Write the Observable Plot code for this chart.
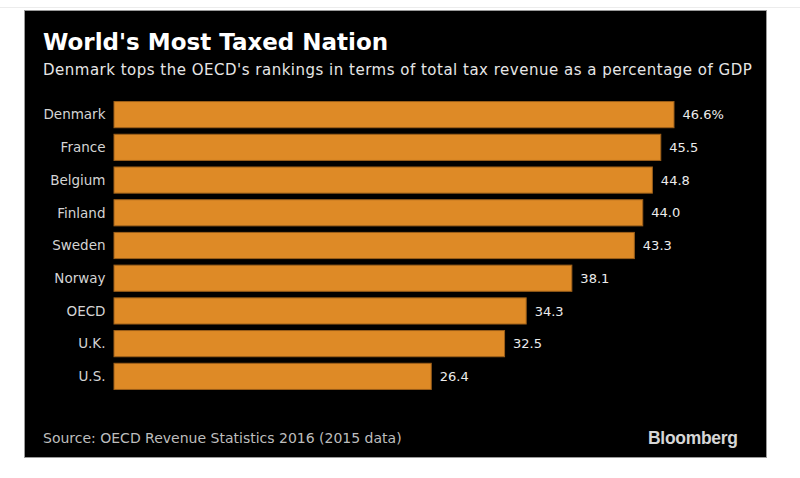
<!DOCTYPE html>
<html>
<head>
<meta charset="utf-8">
<script src="https://cdn.jsdelivr.net/npm/d3@7"></script>
<script src="https://cdn.jsdelivr.net/npm/@observablehq/plot@0.6"></script>
<style>
  html, body { margin: 0; padding: 0; background: #fff; width: 800px; height: 478px; overflow: hidden; }
  #topline { position: absolute; left: 0; top: 7px; width: 800px; height: 1px; background: #ececec; }
  #panel { position: absolute; left: 24px; top: 10px; width: 743px; height: 448px; background: #000; box-shadow: 0 0 0 1px #9a9a9a inset; }
  .t { position: absolute; white-space: nowrap; }
  #title { left: 19px; top: 21px; font: bold 23px/23px "DejaVu Sans", sans-serif; color: #fff; }
  #subtitle { left: 19px; top: 53px; font: 15px/15px "DejaVu Sans", sans-serif; color: #e6e6e6; letter-spacing: 0.5px; }
  #source { left: 19px; top: 421px; font: 14px/14px "DejaVu Sans", sans-serif; color: #bdbdbd; }
  #brand { left: 624px; top: 420px; font: bold 17.5px/17.5px "Liberation Sans", Arial, sans-serif; color: #d6d6d6; letter-spacing: -0.3px; }
  #chart { position: absolute; left: 0; top: 85px; }
</style>
</head>
<body>
<div id="topline"></div>
<div id="panel">
  <div class="t" id="title">World's Most Taxed Nation</div>
  <div class="t" id="subtitle">Denmark tops the OECD's rankings in terms of total tax revenue as a percentage of GDP</div>
  <div id="chart"></div>
  <div class="t" id="source">Source: OECD Revenue Statistics 2016 (2015 data)</div>
  <div class="t" id="brand">Bloomberg</div>
</div>
<script>
const countries = ["Denmark", "France", "Belgium", "Finland", "Sweden", "Norway", "OECD", "U.K.", "U.S."];
const taxShare = [46.6, 45.5, 44.8, 44.0, 43.3, 38.1, 34.3, 32.5, 26.4];
const valueLabels = ["46.6%", "45.5", "44.8", "44.0", "43.3", "38.1", "34.3", "32.5", "26.4"];

const data = countries.map((c, i) => ({country: c, value: taxShare[i], label: valueLabels[i]}));

const chart = Plot.plot({
  width: 743,
  height: 301,
  marginLeft: 90,
  marginRight: 93,
  marginTop: 0,
  marginBottom: 0,
  style: { background: "transparent", fontFamily: "DejaVu Sans, sans-serif", fontSize: "13.5px", color: "#dcdcdc" },
  x: { domain: [0, d3.max(taxShare)], axis: null },
  y: { domain: countries, padding: 0.2, round: false, label: null },
  marks: [
    Plot.axisY({ tickSize: 0, tickPadding: 9, fill: "#d4d4d4", fontSize: 13.5, label: null }),
    Plot.barX(data, { x: "value", y: "country", fill: "#DE8A26", stroke: "#9c5f1a", strokeWidth: 1 }),
    Plot.text(data, { x: "value", y: "country", text: "label", textAnchor: "start", dx: 8, fill: "#ececec", fontSize: 13 })
  ]
});
document.getElementById("chart").appendChild(chart);
</script>
</body>
</html>
